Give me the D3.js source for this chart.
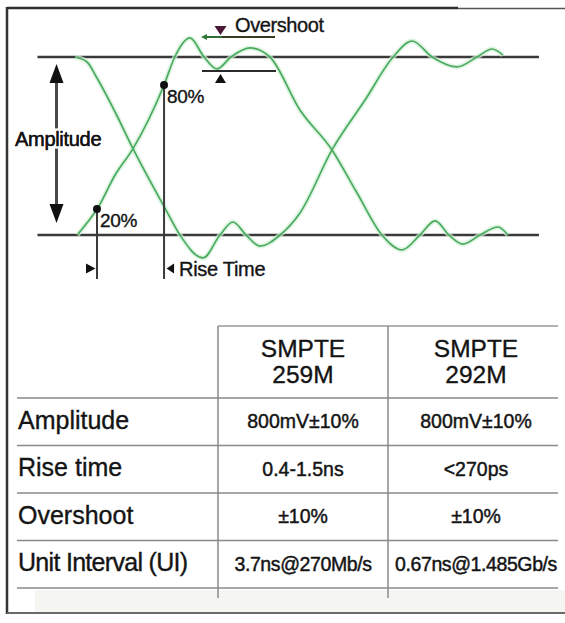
<!DOCTYPE html>
<html><head><meta charset="utf-8">
<script src="https://cdn.jsdelivr.net/npm/d3@7/dist/d3.min.js"></script>
<style>
html,body{margin:0;padding:0;background:#fff;}
svg{display:block;font-family:"Liberation Sans",Arial,Helvetica,sans-serif;}
</style></head>
<body>
<svg id="chart" width="565" height="623"></svg>
<script>
// ---------------- data ----------------
// Eye diagram traces: time in unit intervals (UI), level normalised (0 = low, 1 = high)
const traceATime  = [0.72, 0.77, 0.82, 0.91, 1.00, 1.156, 1.21, 1.286, 1.357, 1.422, 1.492, 1.588, 1.688, 1.839, 2.00, 2.126, 2.251, 2.352, 2.442, 2.518, 2.588, 2.658, 2.744, 2.834, 2.884];
const traceALevel = [0.00, 0.07, 0.146, 0.337, 0.485, 0.843, 1.00, 1.107, 1.00, 0.933, 1.00, 1.051, 1.00, 0.702, 0.478, 0.236, 0.00, -0.084, 0.00, 0.079, 0.00, -0.051, 0.00, 0.045, 0.00];
const traceBTime  = [0.709, 0.769, 0.819, 0.91, 1.00, 1.166, 1.236, 1.352, 1.437, 1.502, 1.568, 1.638, 1.739, 1.839, 2.00, 2.166, 2.307, 2.402, 2.503, 2.628, 2.729, 2.804, 2.859];
const traceBLevel = [1.00, 0.972, 0.882, 0.691, 0.485, 0.140, 0.00, -0.129, 0.00, 0.073, 0.00, -0.062, 0.00, 0.124, 0.478, 0.758, 1.00, 1.09, 1.00, 0.944, 1.00, 1.045, 1.011];
const refLevels = [1, 0];
const refSpan = [0.52, 3.04];
const riseLabels = ["20%", "80%"];
const riseTime = [0.819, 1.156];
const riseLevel = [0.146, 0.843];

// Table
const columnHeads = [["SMPTE", "259M"], ["SMPTE", "292M"]];
const rowLabels = ["Amplitude", "Rise time", "Overshoot", "Unit Interval (UI)"];
const values259M = ["800mV\u00B110%", "0.4-1.5ns", "\u00B110%", "3.7ns@270Mb/s"];
const values292M = ["800mV\u00B110%", "<270ps", "\u00B110%", "0.67ns@1.485Gb/s"];

// ---------------- drawing ----------------
const svg = d3.select("#chart");
const x = d3.scaleLinear().domain([0, 3]).range([-66, 531]);
const y = d3.scaleLinear().domain([0, 1]).range([235, 57]);
const ink = "#141414";
const heavy = sel => sel.attr("fill", ink).attr("stroke", ink).attr("stroke-width", 0.35);

// frame
svg.append("rect").attr("x", 35).attr("y", 590).attr("width", 530).attr("height", 22).attr("fill", "#f5f5f2");
svg.append("line").attr("x1", 7).attr("x2", 458).attr("y1", 8).attr("y2", 8).attr("stroke", "#2e2e2e").attr("stroke-width", 2.5);
svg.append("line").attr("x1", 458).attr("x2", 565).attr("y1", 8.5).attr("y2", 8.5).attr("stroke", "#555").attr("stroke-width", 1.5);
svg.append("line").attr("x1", 7).attr("x2", 7).attr("y1", 7).attr("y2", 614).attr("stroke", "#333").attr("stroke-width", 2.5);
svg.append("line").attr("x1", 7).attr("x2", 565).attr("y1", 613).attr("y2", 613).attr("stroke", "#6a6a6a").attr("stroke-width", 2);

// reference lines
svg.selectAll("line.ref").data(refLevels).join("line").attr("class", "ref")
  .attr("x1", x(refSpan[0])).attr("x2", x(refSpan[1]))
  .attr("y1", d => y(d)).attr("y2", d => y(d))
  .attr("stroke", "#3a3a3a").attr("stroke-width", 2.5);

// traces
const line = d3.line().x(d => x(d[0])).y(d => y(d[1])).curve(d3.curveMonotoneX);
const traces = [d3.zip(traceATime, traceALevel), d3.zip(traceBTime, traceBLevel)];
svg.selectAll("path.halo").data(traces).join("path").attr("class", "halo")
  .attr("d", line).attr("fill", "none").attr("stroke", "#d2efd7").attr("stroke-width", 5).attr("opacity", 0.7);
svg.selectAll("path.trace").data(traces).join("path").attr("class", "trace")
  .attr("d", line).attr("fill", "none").attr("stroke", "#4aab5f").attr("stroke-width", 1.7);

// amplitude arrow
const ax = 56.5;
svg.append("line").attr("x1", ax).attr("x2", ax).attr("y1", 80).attr("y2", 207).attr("stroke", "#4a4a4a").attr("stroke-width", 3);
svg.append("path").attr("d", `M${ax},64 L${ax - 7},83 L${ax + 7},83 Z`).attr("fill", "#111");
svg.append("path").attr("d", `M${ax},223 L${ax - 7},204 L${ax + 7},204 Z`).attr("fill", "#111");
svg.append("text").attr("x", 15).attr("y", 146).text("Amplitude")
  .attr("font-size", 20).attr("fill", ink).attr("stroke", "#fff").attr("stroke-width", 5)
  .attr("paint-order", "stroke").attr("letter-spacing", -0.3);
svg.append("text").attr("x", 15).attr("y", 146).text("Amplitude")
  .attr("font-size", 20).call(heavy).attr("letter-spacing", -0.3);

// rise markers
const markers = d3.zip(riseLabels, riseTime, riseLevel);
svg.selectAll("line.mk").data(markers).join("line").attr("class", "mk")
  .attr("x1", d => x(d[1])).attr("x2", d => x(d[1]))
  .attr("y1", d => y(d[2])).attr("y2", 279)
  .attr("stroke", "#3a3a3a").attr("stroke-width", 2);
svg.selectAll("circle.mk").data(markers).join("circle").attr("class", "mk")
  .attr("cx", d => x(d[1])).attr("cy", d => y(d[2])).attr("r", 4).attr("fill", "#111");
svg.selectAll("text.mk").data(markers).join("text").attr("class", "mk")
  .attr("x", d => x(d[1]) + 3).attr("y", d => y(d[2]) + 18)
  .attr("font-size", 19).call(heavy).attr("letter-spacing", -0.3).text(d => d[0]);

// rise time arrows
const x20 = x(riseTime[0]), x80 = x(riseTime[1]);
svg.append("path").attr("d", `M${x20 - 1.5},268.5 L${x20 - 11},263.5 L${x20 - 11},273.5 Z`).attr("fill", "#111");
svg.append("path").attr("d", `M${x80 + 2.5},268.5 L${x80 + 10},263.5 L${x80 + 10},273.5 Z`).attr("fill", "#111");
svg.append("text").attr("x", x80 + 15).attr("y", 276).attr("font-size", 20).call(heavy)
  .attr("letter-spacing", -0.3).text("Rise Time");

// overshoot annotation
svg.append("line").attr("x1", 204).attr("x2", 275).attr("y1", 37).attr("y2", 37).attr("stroke", "#3a3a22").attr("stroke-width", 2);
svg.append("line").attr("x1", 204).attr("x2", 222).attr("y1", 37).attr("y2", 37).attr("stroke", "#2f6f33").attr("stroke-width", 2);
svg.append("path").attr("d", "M201,37 L207,34 L207,40 Z").attr("fill", "#2f7a36");
svg.append("path").attr("d", "M220.5,35 L214.5,26 L226.5,26 Z").attr("fill", "#4a1838");
svg.append("line").attr("x1", 202).attr("x2", 276).attr("y1", 71).attr("y2", 71).attr("stroke", "#2a2a2a").attr("stroke-width", 2.2);
svg.append("path").attr("d", "M220.5,74 L215,83 L226,83 Z").attr("fill", "#111");
svg.append("text").attr("x", 235).attr("y", 32).attr("font-size", 20).call(heavy)
  .attr("letter-spacing", -0.4).text("Overshoot");

// ---------------- table ----------------
const rowBand = d3.scaleBand().domain(rowLabels).range([398, 588]);
const colCenter = [303, 476];
const tableLine = "#8a8a8a";
svg.append("line").attr("x1", 218).attr("x2", 558).attr("y1", 326).attr("y2", 326).attr("stroke", "#999").attr("stroke-width", 1.5);
svg.selectAll("line.row").data(rowLabels.concat(["end"])).join("line").attr("class", "row")
  .attr("x1", 17).attr("x2", 558)
  .attr("y1", (d, i) => i < rowLabels.length ? rowBand(d) : rowBand.range()[1])
  .attr("y2", (d, i) => i < rowLabels.length ? rowBand(d) : rowBand.range()[1])
  .attr("stroke", tableLine).attr("stroke-width", 1.5);
[218, 388].forEach(cx => svg.append("line").attr("x1", cx).attr("x2", cx).attr("y1", 326).attr("y2", 598)
  .attr("stroke", "#8a8a8a").attr("stroke-width", 1.5));

columnHeads.forEach((h, i) => {
  h.forEach((t, j) => svg.append("text").attr("x", colCenter[i]).attr("y", 357 + j * 26)
    .attr("text-anchor", "middle").attr("font-size", 24.5).call(heavy).text(t));
});
svg.selectAll("text.rowlab").data(rowLabels).join("text").attr("class", "rowlab")
  .attr("x", 18).attr("y", d => rowBand(d) + 30.5).attr("font-size", 25).call(heavy)
  .attr("letter-spacing", d => d.length > 12 ? -0.7 : 0).text(d => d);
[values259M, values292M].forEach((vals, i) => {
  svg.selectAll("text.val" + i).data(d3.zip(rowLabels, vals)).join("text").attr("class", "val" + i)
    .attr("x", colCenter[i]).attr("y", d => rowBand(d[0]) + 30)
    .attr("text-anchor", "middle").attr("font-size", 19.5).call(heavy).attr("stroke-width", 0.45)
    .attr("letter-spacing", d => d[1].length > 12 ? -0.4 : 0).text(d => d[1]);
});
</script>
</body></html>
